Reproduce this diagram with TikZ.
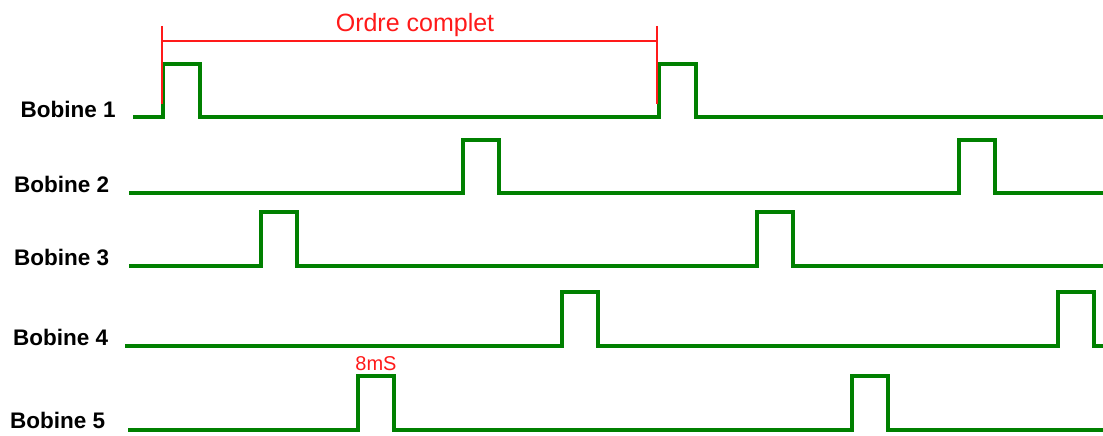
\documentclass[tikz,border=0pt]{standalone}
\usepackage{fontspec}
\setmainfont{Liberation Sans}
\definecolor{sig}{HTML}{008000}
\definecolor{rd}{HTML}{FF1A1A}
\begin{document}
\begin{tikzpicture}[x=1pt,y=-1pt,
  signal/.style={draw=sig,line width=3.3pt,line join=miter},
  marker/.style={draw=rd,line width=1.6pt},
  lbl/.style={font=\bfseries\fontsize{22.5}{27}\selectfont,inner sep=0pt,anchor=base west},
  rtext/.style={text=rd,inner sep=0pt,anchor=base}]
\useasboundingbox[fill=white] (0,0) rectangle (1103,436);
% labels
\node[lbl] (l1) at (20.5,117.5) {Bobine 1};
\node[lbl] (l2) at (14,192.7) {Bobine 2};
\node[lbl] (l3) at (14,265.7) {Bobine 3};
\node[lbl] (l4) at (13,345.5) {Bobine 4};
\node[lbl] (l5) at (10,428) {Bobine 5};
% signals
\draw[signal] (133,117) -- (163,117) -- (163,64) -- (200,64) -- (200,117) -- (659,117) -- (659,64) -- (696,64) -- (696,117) -- (1103,117);
\draw[signal] (129,193) -- (463,193) -- (463,140) -- (499,140) -- (499,193) -- (959,193) -- (959,140) -- (995,140) -- (995,193) -- (1103,193);
\draw[signal] (129,266) -- (261,266) -- (261,212) -- (297,212) -- (297,266) -- (757,266) -- (757,212) -- (793,212) -- (793,266) -- (1103,266);
\draw[signal] (125,346) -- (562,346) -- (562,292) -- (598,292) -- (598,346) -- (1058,346) -- (1058,292) -- (1094,292) -- (1094,346) -- (1103,346);
\draw[signal] (128,430) -- (358,430) -- (358,376) -- (394,376) -- (394,430) -- (852,430) -- (852,376) -- (888,376) -- (888,430) -- (1103,430);
% cycle marker
\coordinate (ta) at (162,26);
\coordinate (tb) at (162,104);
\coordinate (tc) at (657,26);
\coordinate (td) at (657,104);
\coordinate (ha) at (162,41);
\coordinate (hb) at (657,41);
\draw[marker] (ta) -- (tb);
\draw[marker] (tc) -- (td);
\draw[marker] (ha) -- (hb);
\node[rtext,font=\fontsize{25}{30}\selectfont] (oc) at (415,32) {Ordre complet};
\node[rtext,font=\fontsize{20}{24}\selectfont] (dur) at (376,370) {8mS};
\end{tikzpicture}
\end{document}
